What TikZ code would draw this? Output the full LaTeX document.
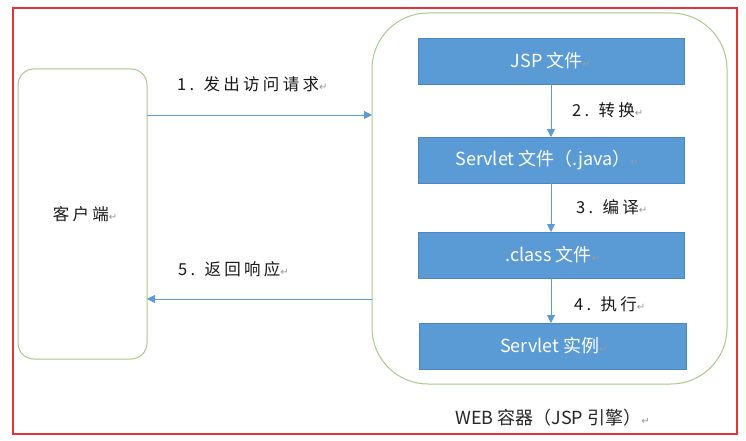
\documentclass[tikz,border=0pt]{standalone}
\usepackage{fontspec}
\setmainfont{Noto Sans CJK SC}
\newfontfamily\symfont{DejaVu Sans}
\newfontfamily\lblfont[LetterSpace=20]{Noto Sans CJK SC}
\usetikzlibrary{arrows.meta}
\definecolor{boxblue}{HTML}{5B9BD5}
\definecolor{boxedge}{HTML}{4A86C0}
\definecolor{arrblue}{HTML}{5B9BD5}
\definecolor{cgreen}{HTML}{A9C98A}
\definecolor{framered}{HTML}{E8313B}
\newcommand{\pmark}{{\color{gray!80}\symfont\fontsize{10}{10}\selectfont ↵}}
\tikzset{
  x=1pt, y=-1pt,
  stepbox/.style={draw=boxedge, fill=boxblue, line width=0.8pt},
  boxtext/.style={text=white, font=\fontsize{18}{20}\selectfont, inner sep=0pt},
  lbl/.style={font=\lblfont\fontsize{16.5}{18}\selectfont, text=black!90, inner sep=0pt},
  conn/.style={draw=arrblue, line width=0.9pt, -{Triangle[length=8pt,width=8pt]}},
  greenbox/.style={draw=cgreen, line width=1pt}
}
\begin{document}
\begin{tikzpicture}
\useasboundingbox (0,0) rectangle (746,441);
\fill[white] (0,0) rectangle (746,441);
% red frame
\draw[framered, line width=2.4pt] (13,8) rectangle (737,434);
% client
\draw[greenbox, rounded corners=16pt] (18,69) rectangle (147,359);
\node[lbl] (client) at (85,214) {客户端\pmark};
% container
\draw[greenbox, rounded corners=56pt] (372,13) rectangle (727,384);
% boxes
\path[stepbox] (418,38) rectangle (684,84);
\node[boxtext] (jsp) at (551,61) {JSP 文件\pmark};
\path[stepbox] (418,137) rectangle (684,183);
\node[boxtext] (java) at (547,160) {Servlet 文件（.java）\pmark};
\path[stepbox] (418,232) rectangle (684,278);
\node[boxtext] (cls) at (553,255) {.class 文件\pmark};
\path[stepbox] (419,323) rectangle (686,369);
\node[boxtext] (inst) at (554,346) {Servlet 实例\pmark};
% anchors for connectors
\coordinate (c1) at (147,115);
\coordinate (w1) at (372,115);
\coordinate (c5) at (147,299);
\coordinate (w5) at (372,299);
\coordinate (jb) at (551,84);
\coordinate (jt) at (551,137);
\coordinate (vb) at (551,183);
\coordinate (vt) at (551,232);
\coordinate (cb) at (551,278);
\coordinate (ct) at (551,323);
\draw[conn] (c1) -- (w1);
\draw[conn] (w5) -- (c5);
\draw[conn] (jb) -- (jt);
\draw[conn] (vb) -- (vt);
\draw[conn] (cb) -- (ct);
% labels
\node[lbl, anchor=west] (l1) at (177,84) {1. 发出访问请求\pmark};
\node[lbl, anchor=west] (l2) at (572,110) {2. 转换\pmark};
\node[lbl, anchor=west] (l3) at (576,207) {3. 编译\pmark};
\node[lbl, anchor=west] (l4) at (574,304) {4. 执行\pmark};
\node[lbl, anchor=west] (l5) at (178,269) {5. 返回响应\pmark};
\node[boxtext, text=black!85, anchor=west] (web) at (455,418) {WEB 容器（JSP 引擎）\pmark};
\end{tikzpicture}
\end{document}
